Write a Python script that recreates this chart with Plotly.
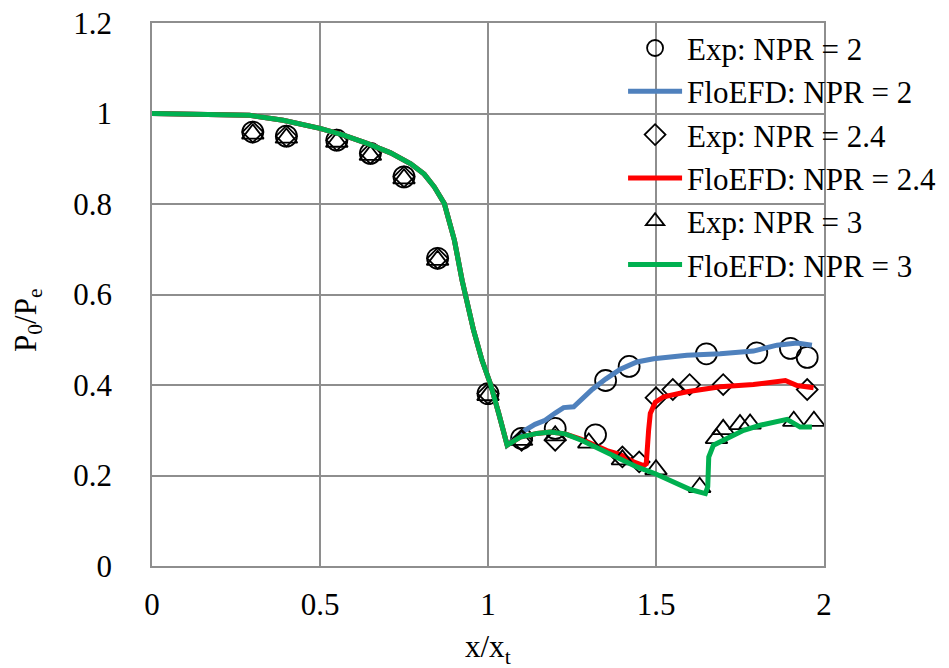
import plotly.graph_objects as go

# ---------------- data ----------------
# Experimental points
x_exp_npr2 = [0.30, 0.40, 0.55, 0.65, 0.75, 0.85, 1.00, 1.10, 1.20, 1.32, 1.35, 1.42, 1.65, 1.80, 1.90, 1.95]
y_exp_npr2 = [0.959, 0.950, 0.941, 0.912, 0.860, 0.680, 0.381, 0.282, 0.304, 0.290, 0.410, 0.441, 0.469, 0.471, 0.481, 0.461]

x_exp_npr24 = [0.30, 0.40, 0.55, 0.65, 0.75, 0.85, 1.00, 1.10, 1.20, 1.40, 1.45, 1.50, 1.55, 1.60, 1.70, 1.95]
y_exp_npr24 = [0.959, 0.950, 0.941, 0.912, 0.860, 0.680, 0.381, 0.278, 0.278, 0.241, 0.230, 0.372, 0.390, 0.401, 0.401, 0.390]

x_exp_npr3 = [0.30, 0.40, 0.55, 0.65, 0.75, 0.85, 1.00, 1.10, 1.20, 1.30, 1.40, 1.50, 1.63, 1.68, 1.70, 1.75, 1.78, 1.91, 1.97]
y_exp_npr3 = [0.955, 0.946, 0.937, 0.908, 0.856, 0.676, 0.377, 0.278, 0.288, 0.272, 0.235, 0.213, 0.174, 0.282, 0.302, 0.313, 0.314, 0.320, 0.320]

# FloEFD curves: shared upstream part
x_cfd_common = [0.00, 0.10, 0.20, 0.29, 0.39, 0.50, 0.57, 0.64, 0.71, 0.77, 0.81, 0.84, 0.87, 0.90,
                0.923, 0.94, 0.957, 0.982, 1.007, 1.032, 1.057]
y_cfd_common = [1.000, 0.999, 0.998, 0.996, 0.985, 0.967, 0.952, 0.934, 0.913, 0.889, 0.866, 0.838, 0.801, 0.720,
                0.631, 0.572, 0.521, 0.455, 0.403, 0.337, 0.267]

# downstream parts
x_cfd_npr2 = [1.08, 1.11, 1.14, 1.17, 1.20, 1.225, 1.255, 1.28, 1.31, 1.35, 1.394, 1.443, 1.493, 1.592,
              1.691, 1.79, 1.86, 1.92, 1.964]
y_cfd_npr2 = [0.282, 0.300, 0.313, 0.322, 0.338, 0.350, 0.352, 0.370, 0.390, 0.413, 0.435, 0.451, 0.458, 0.466,
              0.469, 0.475, 0.488, 0.493, 0.488]

x_cfd_npr24 = [1.096, 1.146, 1.185, 1.23, 1.278, 1.354, 1.394, 1.433, 1.463, 1.471, 1.478, 1.483, 1.498,
               1.523, 1.592, 1.691, 1.79, 1.885, 1.92, 1.969]
y_cfd_npr24 = [0.285, 0.293, 0.296, 0.292, 0.280, 0.255, 0.246, 0.230, 0.222, 0.226, 0.300, 0.337, 0.362,
               0.374, 0.385, 0.396, 0.401, 0.410, 0.399, 0.394]

x_cfd_npr3 = [1.096, 1.146, 1.185, 1.23, 1.278, 1.354, 1.394, 1.443, 1.498, 1.552, 1.602, 1.647, 1.654,
              1.657, 1.671, 1.711, 1.761, 1.81, 1.89, 1.929, 1.964]
y_cfd_npr3 = [0.285, 0.293, 0.296, 0.292, 0.278, 0.252, 0.237, 0.219, 0.204, 0.186, 0.169, 0.160, 0.175,
              0.241, 0.267, 0.282, 0.300, 0.311, 0.324, 0.307, 0.307]

x_ticks = [0, 0.5, 1, 1.5, 2]
x_tick_labels = ["0", "0.5", "1", "1.5", "2"]
y_ticks = [0, 0.2, 0.4, 0.6, 0.8, 1, 1.2]
y_tick_labels = ["0", "0.2", "0.4", "0.6", "0.8", "1", "1.2"]

# ---------------- styles ----------------
FONT = "Liberation Serif"
BLUE = "#4F81BD"
RED = "#FF0000"
GREEN = "#00B050"
GRID = "#8E8E8E"

fig = go.Figure()

fig.add_trace(go.Scatter(x=x_exp_npr2, y=y_exp_npr2, mode="markers", name="Exp: NPR = 2",
                         marker=dict(symbol="circle-open", size=21, color="black", line=dict(width=1.8, color="black"))))
fig.add_trace(go.Scatter(x=x_cfd_common + x_cfd_npr2, y=y_cfd_common + y_cfd_npr2, mode="lines",
                         name="FloEFD: NPR = 2", line=dict(color=BLUE, width=5)))
fig.add_trace(go.Scatter(x=x_exp_npr24, y=y_exp_npr24, mode="markers", name="Exp: NPR = 2.4",
                         marker=dict(symbol="diamond-open", size=16, color="black", line=dict(width=1.8, color="black"))))
fig.add_trace(go.Scatter(x=x_cfd_common + x_cfd_npr24, y=y_cfd_common + y_cfd_npr24, mode="lines",
                         name="FloEFD: NPR = 2.4", line=dict(color=RED, width=5)))
fig.add_trace(go.Scatter(x=x_exp_npr3, y=y_exp_npr3, mode="markers", name="Exp: NPR = 3",
                         marker=dict(symbol="triangle-up-open", size=19, color="black", line=dict(width=1.8, color="black"))))
fig.add_trace(go.Scatter(x=x_cfd_common + x_cfd_npr3, y=y_cfd_common + y_cfd_npr3, mode="lines",
                         name="FloEFD: NPR = 3", line=dict(color=GREEN, width=5)))

# the page body adds an 8px offset, compensated in the margins
fig.update_layout(
    width=949, height=668,
    margin=dict(l=144, r=133, t=15, b=110, autoexpand=False),
    paper_bgcolor="white", plot_bgcolor="white",
    font=dict(family=FONT, size=31, color="black"),
    showlegend=True,
    legend=dict(x=0.701, y=1.003, xanchor="left", yanchor="top",
                bgcolor="rgba(0,0,0,0)", borderwidth=0, itemwidth=54,
                font=dict(family=FONT, size=31, color="black"),
                tracegroupgap=0),
    xaxis=dict(range=[0, 2], tickvals=x_ticks, ticktext=x_tick_labels,
               showgrid=True, gridcolor=GRID, gridwidth=1.6,
               showline=True, linecolor=GRID, linewidth=1.6, mirror=True,
               zeroline=False, ticks="", ticklabelstandoff=10, automargin=False,
               ticklabeloverflow="allow",
               tickfont=dict(family=FONT, size=31, color="black")),
    yaxis=dict(range=[0, 1.2], tickvals=y_ticks, ticktext=y_tick_labels,
               showgrid=True, gridcolor=GRID, gridwidth=1.6,
               showline=True, linecolor=GRID, linewidth=1.6, mirror=True,
               zeroline=False, ticks="", ticklabelstandoff=32, automargin=False,
               ticklabeloverflow="allow",
               tickfont=dict(family=FONT, size=31, color="black")),
    annotations=[
        dict(text="x/x<sub>t</sub>", xref="paper", yref="paper", x=0.5, y=-0.152,
             xanchor="center", yanchor="middle", showarrow=False,
             font=dict(family=FONT, size=31, color="black")),
        dict(text="P<sub>0</sub>/P<sub>e</sub>", xref="paper", yref="paper", x=-0.1845, y=0.453,
             xanchor="center", yanchor="middle", showarrow=False, textangle=-90,
             font=dict(family=FONT, size=31, color="black")),
    ],
)

fig.write_html("out.html")
